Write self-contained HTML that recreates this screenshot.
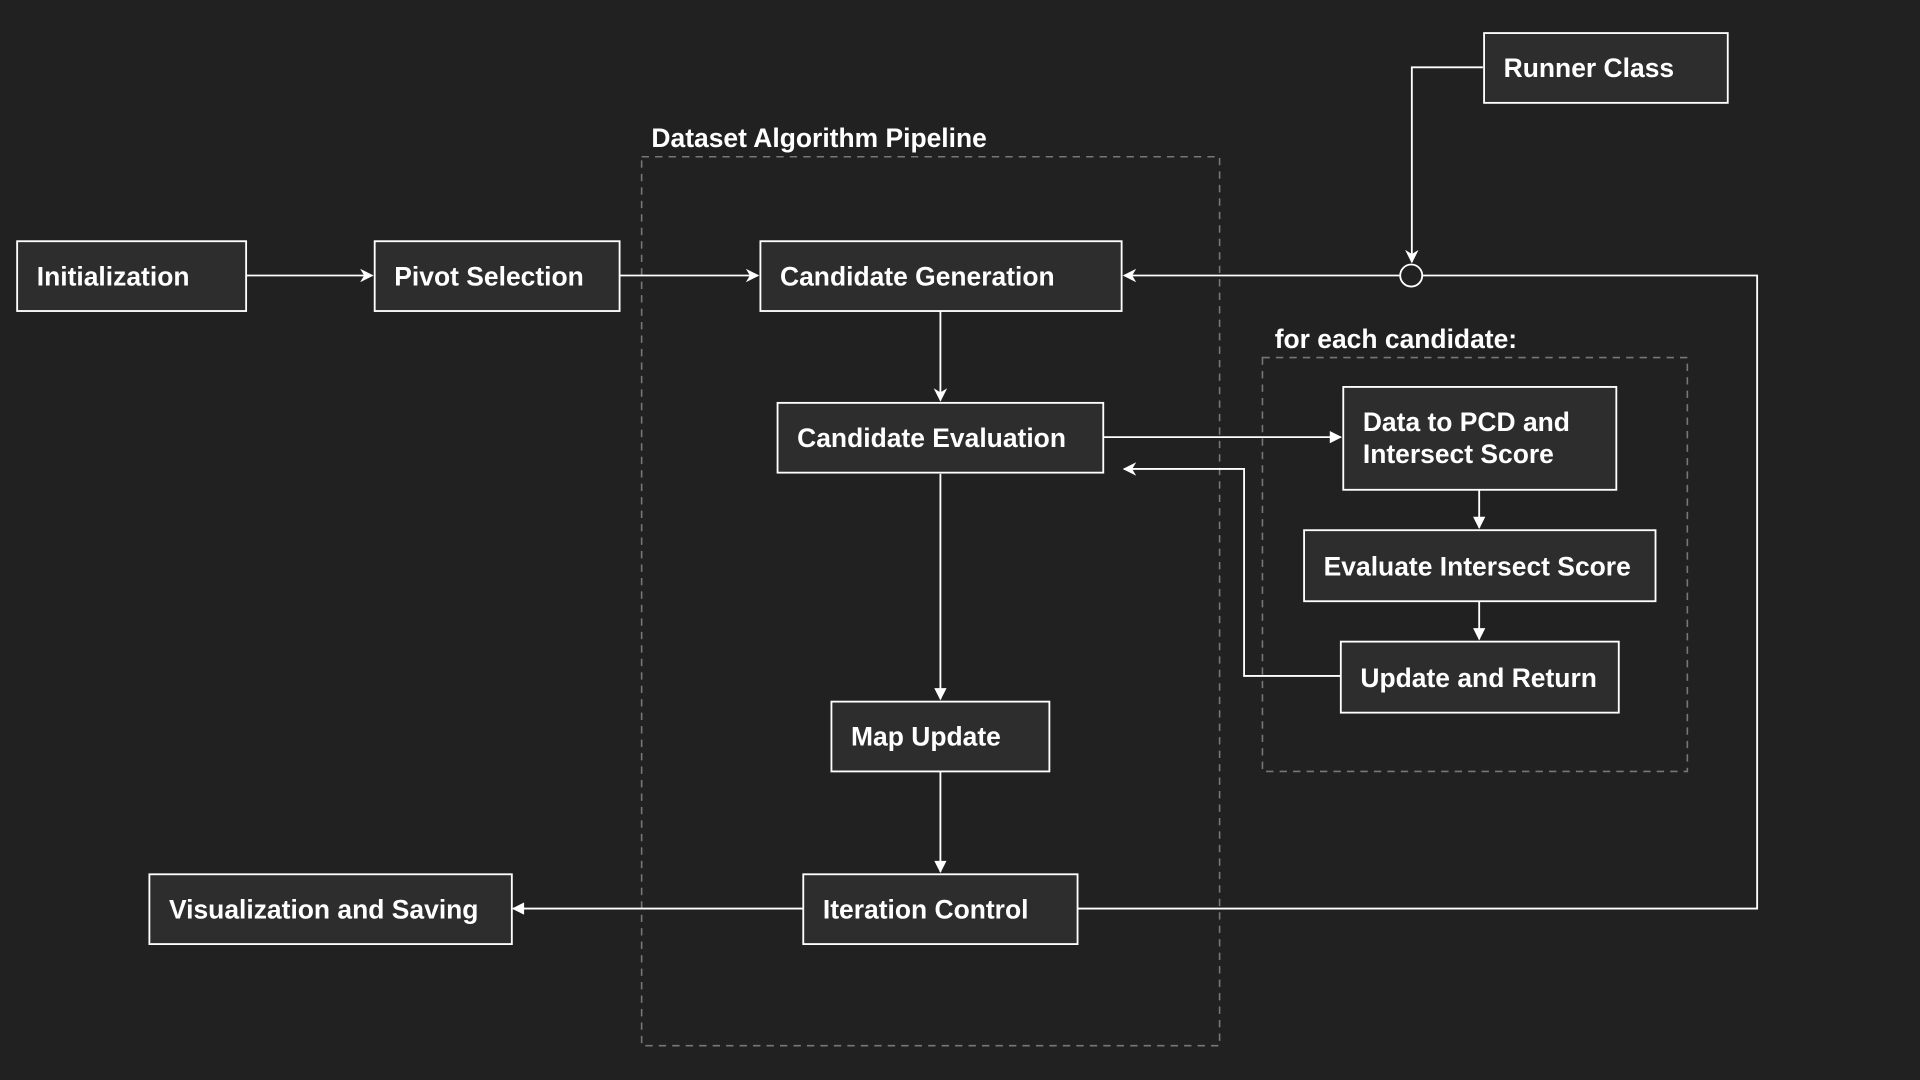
<!DOCTYPE html>
<html><head><style>html,body{margin:0;padding:0;background:#212121;}svg{display:block}</style></head>
<body>
<svg width="1920" height="1080" viewBox="0 0 1568 882" xmlns="http://www.w3.org/2000/svg" font-family="Liberation Sans, Arial, sans-serif" font-weight="bold" font-size="21.6">
<defs>
<marker id="a" viewBox="0 0 10 10" refX="9" refY="5" markerWidth="12" markerHeight="11" orient="auto" markerUnits="userSpaceOnUse"><path d="M0,0 L10,5 L0,10 L3,5 Z" fill="#fff"/></marker>
<marker id="t" viewBox="0 0 10 10" refX="9" refY="5" markerWidth="11" markerHeight="10" orient="auto" markerUnits="userSpaceOnUse"><path d="M0,0 L10,5 L0,10 Z" fill="#fff"/></marker>
</defs>
<rect width="1568" height="882" fill="#212121"/>
<g fill="none" stroke="#777" stroke-width="1.3" stroke-dasharray="6,5">
<rect x="524" y="128" width="472" height="726"/>
<rect x="1031" y="292" width="347" height="338"/>
</g>
<g fill="#fff">
<text x="532" y="120">Dataset Algorithm Pipeline</text>
<text x="1041" y="284">for each candidate:</text>
</g>
<g fill="none" stroke="#fff" stroke-width="1.5">
<line x1="201" y1="225" x2="304" y2="225" marker-end="url(#a)"/>
<line x1="506" y1="225" x2="619" y2="225" marker-end="url(#a)"/>
<line x1="768" y1="254" x2="768" y2="327" marker-end="url(#a)"/>
<line x1="901" y1="357" x2="1095" y2="357" marker-end="url(#t)"/>
<polyline points="1095,552 1016,552 1016,383 918,383" marker-end="url(#a)"/>
<line x1="1208" y1="400" x2="1208" y2="431" marker-end="url(#t)"/>
<line x1="1208" y1="491" x2="1208" y2="522" marker-end="url(#t)"/>
<line x1="768" y1="387" x2="768" y2="571" marker-end="url(#t)"/>
<line x1="768" y1="630" x2="768" y2="712" marker-end="url(#t)"/>
<line x1="656" y1="742" x2="419" y2="742" marker-end="url(#t)"/>
<polyline points="880,742 1435,742 1435,225 1162,225"/>
<line x1="1143" y1="225" x2="918" y2="225" marker-end="url(#a)"/>
<circle cx="1152.5" cy="225" r="9"/>
<polyline points="1211,55 1153,55 1153,214" marker-end="url(#a)"/>
</g>
<g fill="#2d2d2d" stroke="#fff" stroke-width="1.5">
<rect x="1212" y="27" width="199" height="57"/>
<rect x="14" y="197" width="187" height="57"/>
<rect x="306" y="197" width="200" height="57"/>
<rect x="621" y="197" width="295" height="57"/>
<rect x="635" y="329" width="266" height="57"/>
<rect x="1097" y="316" width="223" height="84"/>
<rect x="1065" y="433" width="287" height="58"/>
<rect x="1095" y="524" width="227" height="58"/>
<rect x="679" y="573" width="178" height="57"/>
<rect x="656" y="714" width="224" height="57"/>
<rect x="122" y="714" width="296" height="57"/>
</g>
<g fill="#fff">
<text x="1228" y="63">Runner Class</text>
<text x="30" y="233">Initialization</text>
<text x="322" y="233">Pivot Selection</text>
<text x="637" y="233">Candidate Generation</text>
<text x="651" y="365">Candidate Evaluation</text>
<text x="1113" y="352">Data to PCD and</text>
<text x="1113" y="378">Intersect Score</text>
<text x="1081" y="470">Evaluate Intersect Score</text>
<text x="1111" y="561">Update and Return</text>
<text x="695" y="609">Map Update</text>
<text x="672" y="750">Iteration Control</text>
<text x="138" y="750">Visualization and Saving</text>
</g>
</svg>
</body></html>
